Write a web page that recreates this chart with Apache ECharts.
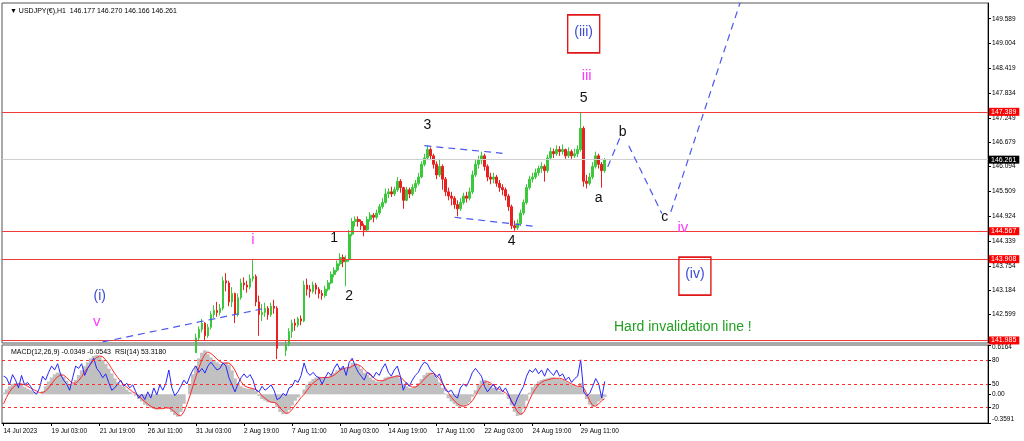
<!DOCTYPE html>
<html><head><meta charset="utf-8">
<script src="https://cdn.jsdelivr.net/npm/echarts@6.0.0/dist/echarts.min.js"></script>
<style>html,body{margin:0;padding:0;background:#fff}#c{width:1024px;height:441px}</style>
</head><body><div id="c"></div>
<script>
// ---- data (H4-style samples of the H1 chart) ----
const tickLabels = ['14 Jul 2023','19 Jul 03:00','21 Jul 19:00','26 Jul 11:00','31 Jul 03:00','2 Aug 19:00','7 Aug 11:00','10 Aug 03:00','14 Aug 19:00','17 Aug 11:00','22 Aug 03:00','24 Aug 19:00','29 Aug 11:00'];
const priceTicks = [149.589,149.004,148.419,147.834,147.249,146.679,146.094,145.509,144.924,144.339,143.754,143.184,142.599];
const rsiTicks = [80,50,20];
const macdTicks = [0.6164,0,-0.3591];
const firstOpen = 138.60;
const closes = [
138.70,138.90,138.60,138.80,138.50,138.70,138.90,139.00,
138.80,138.90,139.20,139.00,139.30,139.50,139.40,139.60,
139.70,139.50,139.80,140.00,139.80,140.20,140.10,140.40,
140.30,140.60,140.90,140.70,141.20,141.50,141.70,141.80,
141.60,141.40,141.50,141.20,141.30,141.00,141.20,140.90,
141.00,140.70,140.50,140.70,140.30,140.50,140.10,140.40,
140.00,139.80,140.30,140.60,140.90,140.40,139.80,139.50,
139.00,138.40,138.70,139.30,139.90,140.80,141.30,141.70,
142.05,142.25,142.40,142.10,142.30,142.60,142.70,142.65,142.75,143.40,
143.35,142.90,143.10,142.60,143.00,143.35,143.30,143.25,143.45,143.50,
142.90,142.60,142.65,142.75,142.60,142.80,142.75,141.80,141.65,141.75,
141.90,142.20,142.40,142.35,142.50,142.45,143.30,143.20,143.15,143.30,
143.20,143.10,143.05,143.20,143.35,143.55,143.65,143.80,143.95,143.85,
143.90,144.50,144.80,144.85,144.80,144.70,144.60,144.85,144.95,144.90,
145.00,145.15,145.25,145.45,145.50,145.45,145.55,145.75,145.60,145.30,
145.55,145.45,145.60,145.70,145.85,146.15,146.30,146.50,146.35,146.15,
145.90,146.10,145.80,145.50,145.40,145.35,145.20,145.10,145.25,145.40,
145.35,145.50,145.90,146.15,146.25,146.35,146.10,145.85,145.80,145.85,
145.70,145.60,145.55,145.40,145.15,144.70,144.65,144.75,145.00,145.25,
145.60,145.80,145.85,145.95,146.05,146.10,146.00,146.30,146.45,146.40,
146.50,146.45,146.50,146.35,146.45,146.35,146.40,146.50,147.00,145.75,
145.70,145.85,146.10,146.35,146.15,146.00,146.261];
const highs = [
138.90,139.05,138.85,138.95,138.75,138.90,139.10,139.20,
139.00,139.10,139.35,139.25,139.45,139.70,139.60,139.80,
139.90,139.75,140.00,140.20,140.05,140.40,140.30,140.60,
140.50,140.80,141.10,140.95,141.40,141.70,141.85,141.90,
141.85,141.65,141.70,141.50,141.50,141.30,141.40,141.15,
141.20,140.95,140.75,140.90,140.60,140.70,140.40,140.60,
140.30,140.10,140.50,140.80,141.20,140.95,140.50,139.90,
139.60,139.10,138.90,139.50,140.10,141.00,141.50,141.90,
142.15,142.32,142.50,142.42,142.38,142.68,142.82,142.90,142.85,143.50,
143.58,143.40,143.25,143.12,143.10,143.45,143.48,143.40,143.55,143.92,
143.55,143.05,142.85,142.88,142.80,142.88,142.95,142.80,141.90,141.88,
142.00,142.28,142.48,142.50,142.55,142.58,143.40,143.45,143.30,143.38,
143.35,143.25,143.18,143.28,143.42,143.62,143.72,143.88,144.05,144.02,
144.00,144.60,144.88,144.92,144.92,144.85,144.75,144.92,145.02,145.00,
145.08,145.22,145.35,145.58,145.58,145.62,145.62,145.85,145.80,145.62,
145.62,145.60,145.68,145.78,145.95,146.22,146.40,146.60,146.55,146.40,
146.22,146.28,146.15,145.85,145.60,145.50,145.40,145.30,145.35,145.48,
145.50,145.60,146.00,146.25,146.35,146.45,146.40,146.15,145.95,145.95,
145.90,145.78,145.68,145.60,145.45,145.20,144.82,144.85,145.08,145.32,
145.68,145.88,145.95,146.05,146.12,146.20,146.15,146.38,146.55,146.52,
146.60,146.58,146.62,146.52,146.55,146.50,146.52,146.60,147.38,147.05,
145.90,145.95,146.20,146.45,146.40,146.20,146.30];
const lows = [
138.45,138.65,138.40,138.55,138.30,138.45,138.70,138.80,
138.60,138.70,138.95,138.80,139.10,139.30,139.20,139.40,
139.45,139.30,139.55,139.75,139.60,139.95,139.90,140.15,
140.10,140.35,140.65,140.50,140.90,141.20,141.45,141.55,
141.35,141.20,141.25,140.95,141.05,140.80,140.95,140.65,
140.75,140.45,140.25,140.45,140.05,140.25,139.85,140.10,
139.75,139.55,139.95,140.30,140.60,140.20,139.40,139.00,
138.50,138.10,138.30,138.65,139.25,139.80,140.70,141.25,
141.70,141.98,142.18,142.00,142.05,142.25,142.52,142.55,142.58,142.70,
143.15,142.80,142.78,142.40,142.55,142.95,143.18,143.12,143.20,143.38,
142.80,142.10,142.45,142.55,142.48,142.55,142.62,141.55,141.50,141.55,
141.62,141.85,142.05,142.22,142.30,142.35,142.42,143.05,143.00,143.10,
143.08,142.98,142.95,143.00,143.15,143.32,143.48,143.60,143.75,143.72,
143.27,143.85,144.45,144.68,144.68,144.60,144.45,144.55,144.80,144.78,
144.85,144.95,145.10,145.22,145.35,145.38,145.40,145.50,145.48,145.10,
145.28,145.35,145.40,145.50,145.65,145.82,146.10,146.25,146.25,146.05,
145.80,145.85,145.55,145.40,145.30,145.18,145.10,144.92,145.05,145.20,
145.25,145.30,145.45,145.85,146.05,146.15,146.00,145.75,145.68,145.70,
145.62,145.50,145.42,145.30,145.05,144.62,144.58,144.60,144.70,144.95,
145.20,145.55,145.72,145.80,145.88,145.95,145.74,145.95,146.25,146.30,
146.35,146.35,146.38,146.28,146.30,146.28,146.30,146.32,146.45,145.62,
145.58,145.65,145.80,146.05,146.05,145.60,145.95];
const rsi = [
60,58,49,62,55,45,61,49,52,47, 40,37,45,60,55,65,73,68,76,62,
55,50,42,58,73,70,76,61,70,76, 83,70,65,58,63,52,42,45,50,55,
47,51,45,49,40,32,37,30,40,32, 45,36,49,42,51,68,45,35,40,47,
55,50,60,68,73,65,70,64,73,78, 73,68,70,77,73,58,49,40,50,58,
63,58,62,55,42,40,47,42,45,49, 42,30,32,38,35,45,47,55,52,61,
77,65,61,65,60,58,50,58,65,61, 70,76,68,73,61,78,83,73,65,60,
55,65,63,58,65,61,70,76,65,60, 68,73,60,42,52,47,55,61,65,73,
78,76,68,65,58,63,52,42,40,42, 35,32,45,50,47,55,65,70,65,60,
47,40,45,50,42,47,40,45,37,27, 22,32,40,47,60,68,65,70,63,68,
60,70,65,61,68,60,63,55,59,52, 57,60,81,40,35,38,47,57,50,32,
53.318];
const macd = [
0.02,0.06,0.10,0.13,0.14,0.14,0.12,0.09,0.07,0.05,
0.03,0.01,0.00,0.04,0.10,0.16,0.21,0.25,0.27,0.26,
0.22,0.17,0.12,0.13,0.18,0.24,0.30,0.35,0.40,0.45,
0.48,0.49,0.47,0.43,0.38,0.32,0.26,0.20,0.15,0.12,
0.09,0.06,0.03,0.01,-0.02,-0.06,-0.09,-0.13,-0.15,-0.17,
-0.18,-0.19,-0.18,-0.17,-0.16,-0.18,-0.22,-0.26,-0.28,-0.22,
-0.12,0.00,0.12,0.25,0.36,0.45,0.52,0.55,0.50,0.46,
0.43,0.40,0.38,0.38,0.40,0.37,0.30,0.20,0.14,0.10,
0.08,0.07,0.07,0.07,0.04,-0.02,-0.06,-0.08,-0.10,-0.10,
-0.11,-0.16,-0.22,-0.25,-0.24,-0.20,-0.14,-0.08,-0.04,0.00,
0.06,0.12,0.16,0.19,0.21,0.22,0.21,0.21,0.22,0.24,
0.27,0.30,0.33,0.33,0.32,0.35,0.39,0.39,0.36,0.32,
0.27,0.24,0.21,0.18,0.16,0.16,0.18,0.21,0.22,0.22,
0.23,0.24,0.20,0.13,0.10,0.08,0.08,0.10,0.14,0.19,
0.24,0.27,0.27,0.25,0.20,0.15,0.08,0.01,-0.05,-0.09,
-0.12,-0.15,-0.16,-0.15,-0.13,-0.10,-0.03,0.05,0.12,0.17,
0.18,0.15,0.11,0.08,0.06,0.04,0.02,0.00,-0.06,-0.14,
-0.22,-0.27,-0.26,-0.18,-0.08,0.02,0.09,0.13,0.16,0.18,
0.19,0.20,0.21,0.21,0.20,0.19,0.18,0.16,0.14,0.12,
0.10,0.09,0.14,0.05,-0.06,-0.13,-0.16,-0.14,-0.09,-0.07,
-0.0349];
const signal = [
-0.12,-0.04,0.03,0.08,0.11,0.13,0.13,0.12,0.10,0.08,
0.06,0.04,0.02,0.02,0.04,0.08,0.13,0.18,0.22,0.24,
0.24,0.21,0.17,0.14,0.14,0.17,0.22,0.28,0.33,0.38,
0.43,0.46,0.48,0.47,0.43,0.38,0.32,0.26,0.21,0.16,
0.12,0.09,0.06,0.03,0.01,-0.02,-0.06,-0.09,-0.12,-0.15,
-0.17,-0.18,-0.18,-0.18,-0.17,-0.17,-0.19,-0.22,-0.26,-0.27,
-0.22,-0.13,-0.02,0.10,0.22,0.33,0.43,0.50,0.53,0.51,
0.48,0.44,0.41,0.39,0.39,0.39,0.36,0.30,0.22,0.16,
0.11,0.09,0.08,0.07,0.06,0.03,-0.02,-0.05,-0.08,-0.10,
-0.10,-0.12,-0.17,-0.21,-0.24,-0.23,-0.19,-0.14,-0.09,-0.04,
0.00,0.05,0.10,0.14,0.17,0.20,0.21,0.21,0.21,0.22,
0.24,0.27,0.30,0.32,0.33,0.33,0.35,0.37,0.37,0.35,
0.31,0.27,0.24,0.21,0.18,0.17,0.17,0.18,0.20,0.21,
0.22,0.23,0.22,0.18,0.14,0.11,0.09,0.09,0.11,0.15,
0.19,0.23,0.26,0.26,0.24,0.20,0.14,0.08,0.02,-0.04,
-0.08,-0.12,-0.14,-0.15,-0.14,-0.12,-0.08,-0.02,0.05,0.11,
0.15,0.16,0.14,0.11,0.08,0.06,0.04,0.02,-0.02,-0.08,
-0.15,-0.22,-0.25,-0.23,-0.16,-0.07,0.01,0.07,0.12,0.15,
0.17,0.18,0.19,0.20,0.20,0.20,0.19,0.17,0.15,0.13,
0.11,0.10,0.10,0.08,0.01,-0.08,-0.14,-0.15,-0.12,-0.08,
-0.0543];
const redLevels = [147.389,144.567,143.908,141.985];
const bidLevel = 146.261;
// dashed wave / trend lines: [[index, price],[index, price]]
const trendLines = [
  [[33,141.955],[86,142.735]],
  [[140,146.59],[166,146.41]],
  [[150,144.90],[176,144.69]],
  [[201,146.09],[205,146.77]],
  [[208,146.59],[219,144.99]],
  [[222,145.03],[245,149.96]]
];
// wave labels: [index, price, text, kind]
const waveLabels = [
  [32,143.03,'(i)','major'],[31,142.43,'v','minor'],[83,144.36,'i','minor'],
  [110,144.41,'1','wave'],[115,143.03,'2','wave'],[141,147.08,'3','wave'],
  [169,144.34,'4','wave'],[193,147.72,'5','wave'],[194,148.24,'iii','minor'],
  [198,145.36,'a','wave'],[206,146.91,'b','wave'],[220,144.91,'c','wave'],
  [226,144.65,'iv','minor'],[226,142.31,'Hard invalidation line !','note']
];
const boxLabels = [[193,149.23,'(iii)'],[230,143.51,'(iv)']];
const slots = 328;

// ---- chart ----
const FONT = '"Liberation Sans", Arial, sans-serif';
const cats = Array.from({length: slots}, (_, i) => String(i));
const candles = closes.map((c, i) => {
  const o = i === 0 ? firstOpen : closes[i - 1];
  return [o, c, Math.min(lows[i], o, c), Math.max(highs[i], o, c)];
});
const isTick = (i) => i % 16 === 0 && i / 16 < tickLabels.length;
const styles = {
  wave: {color: '#111', fontSize: 14},
  minor: {color: '#ff3cff', fontSize: 15},
  major: {color: '#3c4ad8', fontSize: 14},
  note: {color: '#22a022', fontSize: 14}
};
const blueDash = {color: '#4a58ee', width: 1.2, type: [7, 5]};
const tag = (bg) => ({show: true, position: 'end', distance: 1, backgroundColor: bg, color: '#fff', fontSize: 7, fontFamily: FONT, padding: [1, 3, 0, 2]});

const markLines = [];
redLevels.forEach(v => markLines.push({
  yAxis: v, lineStyle: {color: '#ef3a3a', width: 1.2, type: 'solid'},
  label: Object.assign(tag('#ff0000'), {formatter: v.toFixed(3)})
}));
markLines.push({
  yAxis: bidLevel, lineStyle: {color: '#cfcfcf', width: 1, type: 'solid'},
  label: Object.assign(tag('#000'), {formatter: bidLevel.toFixed(3)})
});
trendLines.forEach(l => markLines.push([{coord: l[0], lineStyle: blueDash}, {coord: l[1]}]));

const markPoints = waveLabels.map(w => ({
  coord: [w[0], w[1]], name: w[2], symbol: 'circle', symbolSize: 0,
  label: {show: true, position: 'inside', formatter: w[2], color: styles[w[3]].color, fontSize: styles[w[3]].fontSize, fontFamily: FONT}
}));
boxLabels.forEach(b => markPoints.push({
  coord: [b[0], b[1]], name: b[2], symbol: 'rect', symbolSize: [32, 38],
  itemStyle: {color: 'rgba(255,255,255,0)', borderColor: '#e01818', borderWidth: 1.5},
  label: {show: true, position: 'inside', formatter: b[2], color: '#3c4ad8', fontSize: 14, fontFamily: FONT, offset: [0, -2]}
}));

const small = {fontSize: 6.5, color: '#000', fontFamily: FONT};
const option = {
  animation: false,
  backgroundColor: '#fff',
  textStyle: {fontFamily: FONT},
  title: [
    {text: '\u25BC USDJPY(\u20AC),H1  146.177 146.270 146.166 146.261', left: 5, top: 3, textStyle: {fontSize: 7, fontWeight: 'normal', color: '#000', fontFamily: FONT}},
    {text: 'MACD(12,26,9) -0.0349 -0.0543  RSI(14) 53.3180', left: 6, top: 344, textStyle: {fontSize: 7, fontWeight: 'normal', color: '#000', fontFamily: FONT}}
  ],
  grid: [
    {left: 2, right: 36, top: 3, height: 340, show: true, borderColor: '#555', borderWidth: 1},
    {left: 2, right: 36, top: 345, height: 78, show: true, borderColor: '#555', borderWidth: 1}
  ],
  xAxis: [
    {type: 'category', gridIndex: 0, data: cats, axisLine: {show: false}, axisTick: {show: false}, axisLabel: {show: false}, splitLine: {show: false}},
    {type: 'category', gridIndex: 1, data: cats, axisLine: {show: true, lineStyle: {color: '#000'}},
     axisTick: {show: true, alignWithLabel: true, interval: (i) => isTick(i), length: 3, lineStyle: {color: '#000'}},
     axisLabel: Object.assign({interval: (i) => isTick(i), formatter: (v, i) => tickLabels[i / 16], align: 'left', margin: 5}, small),
     splitLine: {show: false}}
  ],
  yAxis: [
    {type: 'value', gridIndex: 0, position: 'right', min: 141.93, max: 149.96, scale: true, splitLine: {show: false},
     axisLine: {show: true, lineStyle: {color: '#000'}},
     axisTick: {show: true, customValues: priceTicks, length: 3, lineStyle: {color: '#000'}},
     axisLabel: Object.assign({customValues: priceTicks, formatter: v => v.toFixed(3), margin: 4}, small)},
    {type: 'value', gridIndex: 1, position: 'right', min: 0, max: 100, splitLine: {show: false},
     axisLine: {show: true, lineStyle: {color: '#000'}},
     axisTick: {show: true, customValues: rsiTicks, length: 3, lineStyle: {color: '#000'}},
     axisLabel: Object.assign({customValues: rsiTicks, margin: 4}, small)},
    {type: 'value', gridIndex: 1, position: 'right', min: -0.3591, max: 0.6164, splitLine: {show: false},
     axisLine: {show: false},
     axisTick: {show: true, customValues: macdTicks, length: 3, lineStyle: {color: '#000'}},
     axisLabel: Object.assign({customValues: macdTicks, showMinLabel: true, showMaxLabel: true, margin: 4,
       formatter: v => v === 0 ? '0.00' : (v > 0 ? '{t|' + v.toFixed(4) + '}' : '{b|' + v.toFixed(4) + '}'),
       rich: {t: {fontSize: 6.5, fontFamily: FONT, color: '#000', padding: [4, 0, 0, 0]}, b: {fontSize: 6.5, fontFamily: FONT, color: '#000', padding: [0, 0, 7, 0]}}}, small)}
  ],
  series: [
    {type: 'candlestick', xAxisIndex: 0, yAxisIndex: 0, data: candles, barWidth: 2.2, clip: true,
     itemStyle: {color: '#3cc83c', color0: '#e82020', borderColor: '#3cc83c', borderColor0: '#e82020', borderWidth: 1},
     markLine: {silent: true, symbol: ['none', 'none'], data: markLines},
     markPoint: {silent: true, data: markPoints}},
    {type: 'bar', xAxisIndex: 1, yAxisIndex: 2, data: macd, barWidth: 3.6, itemStyle: {color: '#c0c0c0'}, silent: true},
    {type: 'line', xAxisIndex: 1, yAxisIndex: 2, data: signal, symbol: 'none', lineStyle: {color: '#ff2a2a', width: 1}, silent: true},
    {type: 'line', xAxisIndex: 1, yAxisIndex: 1, data: rsi, symbol: 'none', lineStyle: {color: '#2626ff', width: 1}, silent: true,
     markLine: {silent: true, symbol: ['none', 'none'], label: {show: false},
       lineStyle: {color: '#ff2a2a', width: 1, type: [3, 3]},
       data: rsiTicks.map(v => ({yAxis: v}))}}
  ]
};
const chart = echarts.init(document.getElementById('c'), null, {renderer: 'canvas'});
chart.setOption(option);
</script>
</body></html>
